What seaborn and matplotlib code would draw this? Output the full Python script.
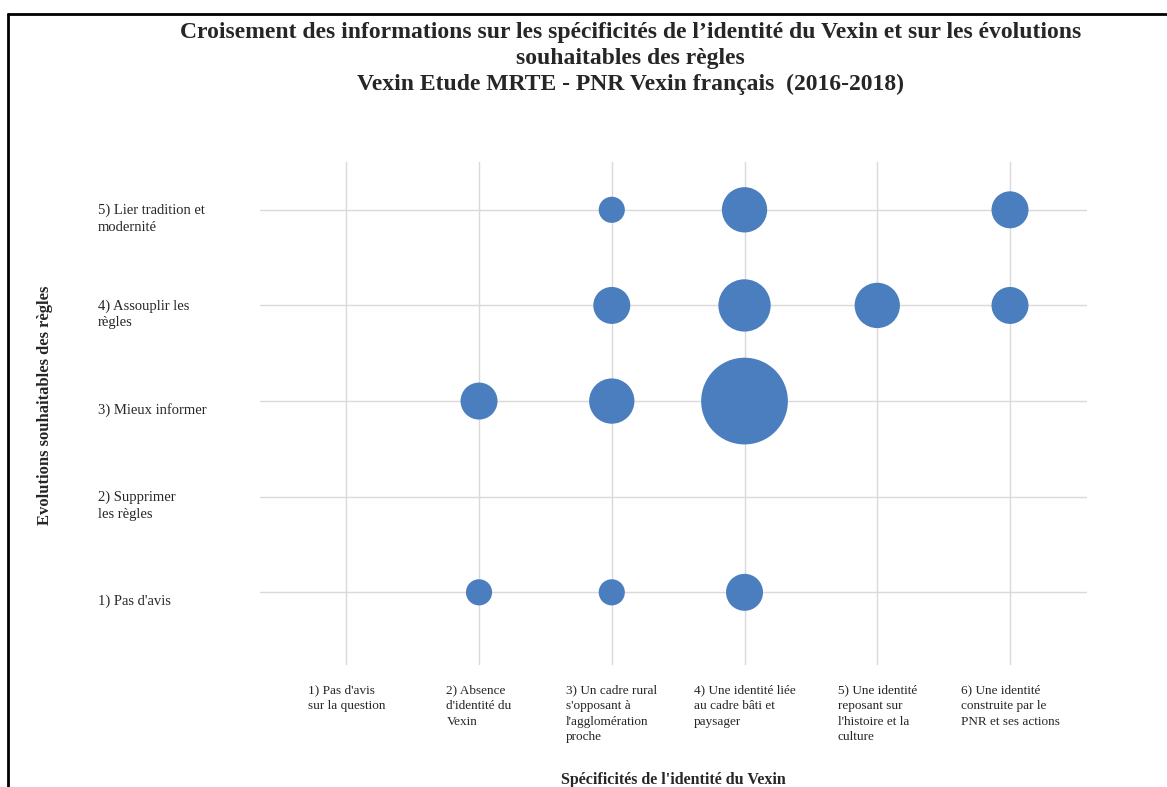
import numpy as np
import pandas as pd
import matplotlib
matplotlib.use("Agg")
import matplotlib.pyplot as plt
import matplotlib.transforms as mtrans
import seaborn as sns
from matplotlib.lines import Line2D

# Data: x = identity category, y = rule evolution, n = bubble size
x_cat = [3, 4, 6, 3, 4, 5, 6, 2, 3, 4, 2, 3, 4]
y_cat = [5, 5, 5, 4, 4, 4, 4, 3, 3, 3, 1, 1, 1]
counts = [1, 3, 2, 2, 4, 3, 2, 2, 3, 11, 1, 1, 2]

x_labels = [
    "1) Pas d'avis\nsur la question",
    "2) Absence\nd'identité du\nVexin",
    "3) Un cadre rural\ns'opposant à\nl'agglomération\nproche",
    "4) Une identité liée\nau cadre bâti et\npaysager",
    "5) Une identité\nreposant sur\nl'histoire et la\nculture",
    "6) Une identité\nconstruite par le\nPNR et ses actions",
]
y_labels = [
    "1) Pas d'avis",
    "2) Supprimer\nles règles",
    "3) Mieux informer",
    "4) Assouplir les\nrègles",
    "5) Lier tradition et\nmodernité",
]

title = ("Croisement des informations sur les spécificités de l\u2019identité du Vexin et sur les évolutions\n"
         "souhaitables des règles\n"
         "Vexin Etude MRTE - PNR Vexin français  (2016-2018)")

df = pd.DataFrame({"x": x_cat, "y": y_cat, "n": counts})

sns.set_style("white")
plt.rcParams["font.family"] = ["Liberation Serif", "DejaVu Serif"]

W, H = 1167, 787
fig = plt.figure(figsize=(W / 100, H / 100), dpi=100)
ax = fig.add_axes([260 / W, 1 - 665 / H, 827 / W, 503 / H])

sns.scatterplot(data=df, x="x", y="y", size="n", sizes=(0, 3900), size_norm=(0, 11),
                color="#4a7ebf", linewidth=0, alpha=1, legend=False, ax=ax, zorder=3)

ax.set_xlim(0.35, 6.58)
ax.set_ylim(0.24, 5.5)
ax.set_xticks(range(1, 7))
ax.set_yticks(range(1, 6))
ax.set_xticklabels(x_labels, fontsize=9.5, ha="center", va="top",
                   multialignment="left", linespacing=1.4)
ax.set_yticklabels(y_labels, fontsize=10.5, ha="left", va="center",
                   multialignment="left", linespacing=1.35)
ax.tick_params(axis="y", length=0, pad=117)
ax.tick_params(axis="x", length=0, pad=14)
# labels sit a little below their gridline in the original
shift = mtrans.ScaledTranslation(0, -9 / 100, fig.dpi_scale_trans)
for lab in ax.get_yticklabels():
    lab.set_transform(lab.get_transform() + shift)

ax.grid(True, color="#d9d9d9", linewidth=1)
ax.set_axisbelow(True)
for s in ax.spines.values():
    s.set_visible(False)

ax.set_xlabel("Spécificités de l'identité du Vexin", fontsize=11.5, fontweight="bold")
ax.set_ylabel("Evolutions souhaitables des règles", fontsize=12, fontweight="bold")
ax.xaxis.set_label_coords(0.5, -0.212)
ax.yaxis.set_label_coords(-0.25, 0.517)

fig.text(0.54, 1 - 22 / H, title, ha="center", va="top", fontsize=17,
         fontweight="bold", linespacing=1.3)

# chart frame (top and left edges visible)
fig.add_artist(Line2D([8 / W, 1], [1 - 14 / H, 1 - 14 / H], color="black", linewidth=2))
fig.add_artist(Line2D([8 / W, 8 / W], [0, 1 - 14 / H], color="black", linewidth=2))

fig.savefig("out.png", dpi=100)
